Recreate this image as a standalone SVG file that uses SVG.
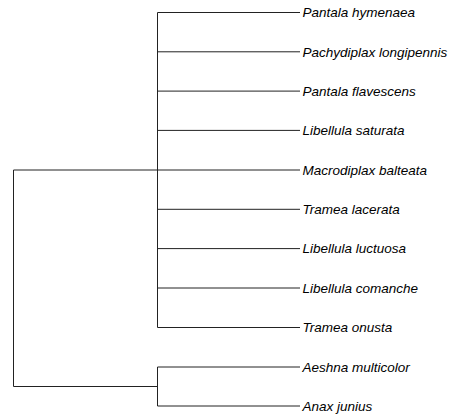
<svg xmlns="http://www.w3.org/2000/svg" width="454" height="419" viewBox="0 0 454 419">
<style>
.e{stroke:#222;stroke-width:1;fill:none}
.t{font-family:"Liberation Sans",Arial,sans-serif;font-style:italic;font-size:13.5px;fill:#000}
</style>
<rect width="454" height="419" fill="#fff"/>
<g id="connectors">
<path class="e" d="M13.5,170 V386.5 H157.5"/>
<path class="e" d="M13.5,170 H157.5"/>
<path class="e" d="M157.5,12.5 V327.5"/>
<path class="e" d="M157.5,367 V406"/>
<path class="e" d="M157.5,12.5 H300 M157.5,51.8 H300 M157.5,91.1 H300 M157.5,130.4 H300 M157.5,170 H300 M157.5,209.3 H300 M157.5,248.6 H300 M157.5,288 H300 M157.5,327.5 H300 M157.5,367 H300 M157.5,406 H300"/>
</g>
<g id="n1"><text class="t" x="302.5" y="17.2">Pantala hymenaea</text></g>
<g id="n2"><text class="t" x="302.5" y="56.5">Pachydiplax longipennis</text></g>
<g id="n3"><text class="t" x="302.5" y="95.8">Pantala flavescens</text></g>
<g id="n4"><text class="t" x="302.5" y="135.1">Libellula saturata</text></g>
<g id="n5"><text class="t" x="302.5" y="174.7">Macrodiplax balteata</text></g>
<g id="n6"><text class="t" x="302.5" y="214">Tramea lacerata</text></g>
<g id="n7"><text class="t" x="302.5" y="253.3">Libellula luctuosa</text></g>
<g id="n8"><text class="t" x="302.5" y="292.7">Libellula comanche</text></g>
<g id="n9"><text class="t" x="302.5" y="332.2">Tramea onusta</text></g>
<g id="n10"><text class="t" x="302.5" y="371.7">Aeshna multicolor</text></g>
<g id="n11"><text class="t" x="302.5" y="410.7">Anax junius</text></g>
</svg>
